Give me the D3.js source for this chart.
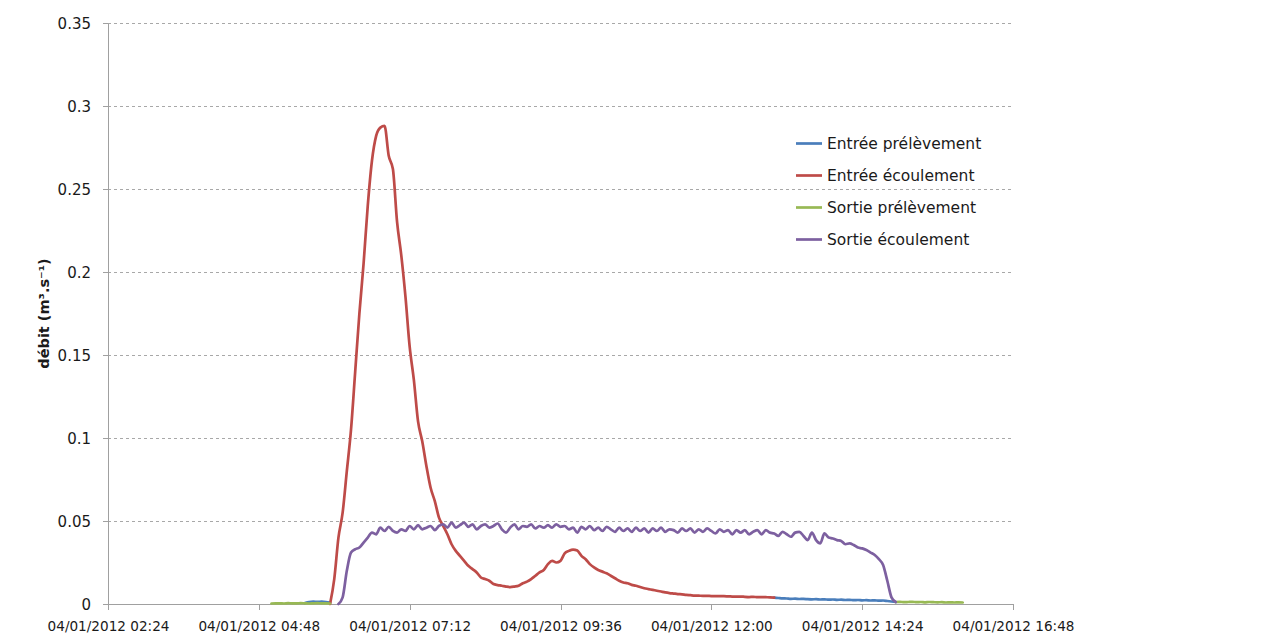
<!DOCTYPE html>
<html>
<head>
<meta charset="utf-8">
<script src="https://cdn.jsdelivr.net/npm/d3@7"></script>
<style>
  body { margin: 0; background: #fff; }
  text { font-family: "DejaVu Sans", sans-serif; fill: #1a1a1a; }
</style>
</head>
<body>
<svg id="chart" width="1286" height="637"></svg>
<script>
// ---------------- DATA ----------------
const tickTimes = ["02:24", "04:48", "07:12", "09:36", "12:00", "14:24", "16:48"];
const tickLabels = ["04/01/2012 02:24", "04/01/2012 04:48", "04/01/2012 07:12", "04/01/2012 09:36",
                    "04/01/2012 12:00", "04/01/2012 14:24", "04/01/2012 16:48"];
const yTickValues = [0, 0.05, 0.1, 0.15, 0.2, 0.25, 0.3, 0.35];
const yTickLabels = ["0", "0.05", "0.1", "0.15", "0.2", "0.25", "0.3", "0.35"];
const yTitle = "débit (m³.s⁻¹)";

const seriesNames = ["Entrée prélèvement", "Entrée écoulement", "Sortie prélèvement", "Sortie écoulement"];
const seriesColors = ["#4a7ebb", "#be4b48", "#98b954", "#7d60a0"];
const sampleStepMinutes = 4;

// Entrée prélèvement (two measured segments)
const entreePrelevementA_start = "05:32";
const entreePrelevementA = [0.0006, 0.0012, 0.0014, 0.0013, 0.0014, 0.0012, 0.0008];
const entreePrelevementB_start = "13:00";
const entreePrelevementB = [0.0038, 0.0036, 0.0034, 0.0033, 0.0031, 0.0032, 0.0030, 0.0031, 0.0029, 0.0028,
  0.0029, 0.0027, 0.0028, 0.0026, 0.0027, 0.0025, 0.0026, 0.0024, 0.0025, 0.0023,
  0.0024, 0.0022, 0.0023, 0.0021, 0.0022, 0.0020, 0.0021, 0.0018, 0.0015, 0.0012];

// Entrée écoulement
const entreeEcoulement_start = "05:56";
const entreeEcoulement = [
  0, 0.015, 0.04, 0.055, 0.08, 0.105, 0.14, 0.175, 0.205, 0.24,
  0.267, 0.282, 0.287, 0.288, 0.27, 0.262, 0.23, 0.21, 0.185, 0.155,
  0.135, 0.11, 0.098, 0.083, 0.07, 0.062, 0.052, 0.047, 0.042, 0.036,
  0.032, 0.029, 0.026, 0.023, 0.021, 0.019, 0.016, 0.015, 0.014, 0.012,
  0.0114, 0.011, 0.0105, 0.0102, 0.0105, 0.011, 0.0125, 0.0135, 0.015, 0.017,
  0.019, 0.0205, 0.024, 0.026, 0.025, 0.026, 0.0305, 0.032, 0.0328, 0.0322,
  0.029, 0.027, 0.024, 0.022, 0.0205, 0.0195, 0.0185, 0.017, 0.0155, 0.014,
  0.013, 0.0125, 0.0115, 0.011, 0.0102, 0.0095, 0.009, 0.0085, 0.008, 0.0075,
  0.007, 0.0066, 0.0063, 0.006, 0.0058, 0.0055, 0.0053, 0.0051, 0.005, 0.0049,
  0.0049, 0.0048, 0.0048, 0.0047, 0.0047, 0.0046, 0.0045, 0.0044, 0.0045, 0.0043,
  0.0042, 0.0043, 0.0041, 0.0042, 0.0041, 0.004, 0.0038];

// Sortie prélèvement (two measured segments)
const sortiePrelevementA_start = "05:00";
const sortiePrelevementA = [0.0003, 0.0004, 0.0004, 0.0003, 0.0005, 0.0004, 0.0004, 0.0005, 0.0004, 0.0003,
  0.0004, 0.0005, 0.0004, 0.0004, 0.0003];
const sortiePrelevementB_start = "14:56";
const sortiePrelevementB = [0.0012, 0.0013, 0.0011, 0.0012, 0.0013, 0.0011, 0.0012, 0.0010, 0.0012, 0.0011,
  0.0010, 0.0011, 0.0009, 0.0010, 0.0009, 0.0010, 0.0009];

// Sortie écoulement
const sortieEcoulement_start = "06:04";
const sortieEcoulement = [
  0, 0.004, 0.02, 0.031, 0.033, 0.034, 0.037, 0.04, 0.043, 0.042,
  0.046, 0.044, 0.0465, 0.044, 0.043, 0.045, 0.044, 0.047, 0.045, 0.0475,
  0.045, 0.046, 0.047, 0.0445, 0.047, 0.048, 0.046, 0.049, 0.046, 0.0475,
  0.049, 0.0465, 0.048, 0.045, 0.047, 0.048, 0.046, 0.047, 0.0485, 0.045,
  0.043, 0.046, 0.048, 0.045, 0.047, 0.0465, 0.048, 0.0455, 0.047, 0.046,
  0.0475, 0.046, 0.048, 0.0465, 0.047, 0.045, 0.046, 0.043, 0.0465, 0.045,
  0.047, 0.0445, 0.046, 0.044, 0.0465, 0.045, 0.0435, 0.046, 0.044, 0.0455,
  0.0435, 0.046, 0.044, 0.0455, 0.043, 0.0455, 0.044, 0.046, 0.0435, 0.045,
  0.0445, 0.043, 0.0455, 0.044, 0.0455, 0.043, 0.045, 0.0435, 0.0455, 0.044,
  0.0425, 0.045, 0.0435, 0.0445, 0.042, 0.0445, 0.043, 0.0445, 0.042, 0.0435,
  0.0445, 0.042, 0.0445, 0.043, 0.0425, 0.041, 0.0435, 0.042, 0.0405, 0.043,
  0.0435, 0.041, 0.0385, 0.043, 0.0385, 0.0365, 0.0425, 0.040, 0.0395, 0.0385,
  0.038, 0.036, 0.0365, 0.0355, 0.034, 0.0335, 0.0325, 0.031, 0.0295, 0.027,
  0.0235, 0.014, 0.004, 0.0012];

// ---------------- CHART ----------------
const plot = { left: 108, right: 1013, top: 23, bottom: 604 };
const svg = d3.select("#chart");

const parseT = t => {
  const [h, m] = t.split(":").map(Number);
  return new Date(2012, 0, 4, h, m);
};

const x = d3.scaleTime()
  .domain([parseT(tickTimes[0]), parseT(tickTimes[tickTimes.length - 1])])
  .range([plot.left, plot.right]);
const y = d3.scaleLinear().domain([0, 0.35]).range([plot.bottom, plot.top]);

function toPoints(startStr, values) {
  const t0 = parseT(startStr);
  return values.map((v, i) => ({ t: new Date(t0.getTime() + i * sampleStepMinutes * 60000), v }));
}

const series = [
  { name: seriesNames[0], color: seriesColors[0],
    segments: [toPoints(entreePrelevementA_start, entreePrelevementA), toPoints(entreePrelevementB_start, entreePrelevementB)] },
  { name: seriesNames[1], color: seriesColors[1],
    segments: [toPoints(entreeEcoulement_start, entreeEcoulement)] },
  { name: seriesNames[2], color: seriesColors[2],
    segments: [toPoints(sortiePrelevementA_start, sortiePrelevementA), toPoints(sortiePrelevementB_start, sortiePrelevementB)] },
  { name: seriesNames[3], color: seriesColors[3],
    segments: [toPoints(sortieEcoulement_start, sortieEcoulement)] }
];

// gridlines
svg.append("g")
  .selectAll("line")
  .data(yTickValues.filter(v => v > 0))
  .join("line")
  .attr("x1", plot.left).attr("x2", plot.right)
  .attr("y1", d => y(d)).attr("y2", d => y(d))
  .attr("stroke", "#a8a8a8").attr("stroke-width", 1)
  .attr("stroke-dasharray", "3,3")
  .attr("shape-rendering", "crispEdges");

// y axis
const yAxis = d3.axisLeft(y).tickValues(yTickValues)
  .tickFormat((d, i) => yTickLabels[i]).tickSize(5).tickSizeOuter(0);
const gy = svg.append("g").attr("transform", `translate(${plot.left},0)`).call(yAxis);
gy.select(".domain").attr("stroke", "#a0a0a0").attr("shape-rendering", "crispEdges");
gy.selectAll(".tick line").attr("stroke", "#a0a0a0").attr("shape-rendering", "crispEdges");
gy.selectAll(".tick text")
  .attr("x", -17).attr("dy", "0.38em")
  .attr("font-family", "DejaVu Sans").attr("font-size", 15).attr("fill", "#1a1a1a");

// x axis
const xAxis = d3.axisBottom(x).tickValues(tickTimes.map(parseT))
  .tickFormat((d, i) => tickLabels[i]).tickSize(6).tickSizeOuter(0);
const gx = svg.append("g").attr("transform", `translate(0,${plot.bottom})`).call(xAxis);
gx.select(".domain").attr("stroke", "#a0a0a0").attr("shape-rendering", "crispEdges");
gx.selectAll(".tick line").attr("stroke", "#a0a0a0").attr("shape-rendering", "crispEdges");
gx.selectAll(".tick text")
  .attr("y", 27).attr("dy", 0)
  .attr("font-family", "DejaVu Sans").attr("font-size", 13.6).attr("fill", "#1a1a1a");

// y title
svg.append("text")
  .attr("transform", `translate(49,${(plot.top + plot.bottom) / 2}) rotate(-90)`)
  .attr("text-anchor", "middle")
  .attr("font-size", 14.5).attr("font-weight", "bold").attr("fill", "#1a1a1a")
  .text(yTitle);

// lines
const line = d3.line().x(d => x(d.t)).y(d => y(d.v)).curve(d3.curveMonotoneX);
const gLines = svg.append("g");
series.forEach(s => {
  s.segments.forEach(seg => {
    gLines.append("path")
      .datum(seg)
      .attr("d", line)
      .attr("fill", "none")
      .attr("stroke", s.color)
      .attr("stroke-width", 2.7)
      .attr("stroke-linejoin", "round")
      .attr("stroke-linecap", "round");
  });
});

// legend
const legend = svg.append("g").attr("transform", "translate(796,143.5)");
const items = legend.selectAll("g").data(series).join("g")
  .attr("transform", (d, i) => `translate(0,${i * 32})`);
items.append("line").attr("x1", 0).attr("x2", 26).attr("y1", 0).attr("y2", 0)
  .attr("stroke", d => d.color).attr("stroke-width", 2.7);
items.append("text").attr("x", 31).attr("dy", "0.36em")
  .attr("font-size", 15.5).attr("fill", "#1a1a1a")
  .text(d => d.name);
</script>
</body>
</html>
